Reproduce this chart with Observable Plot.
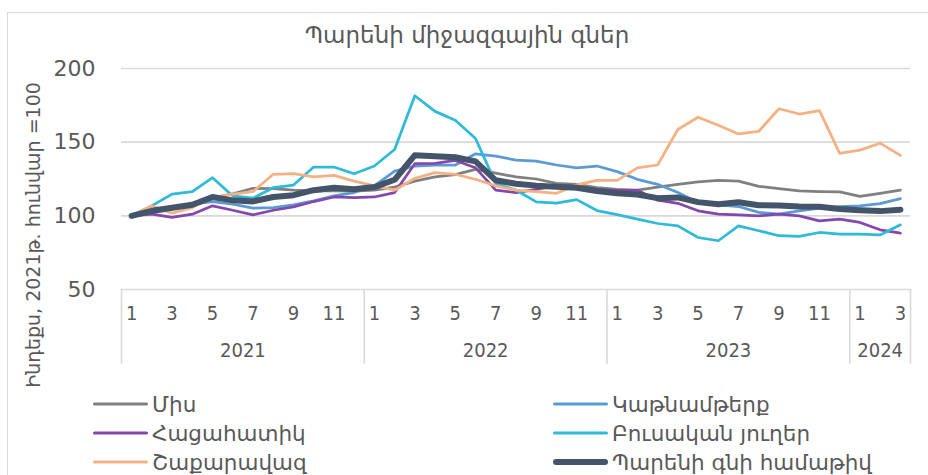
<!DOCTYPE html>
<html>
<head>
<meta charset="utf-8">
<script src="https://cdn.jsdelivr.net/npm/d3@7"></script>
<script src="https://cdn.jsdelivr.net/npm/@observablehq/plot@0.6"></script>
<style>
  html, body { margin: 0; padding: 0; background: #fff; }
  #wrap { position: relative; width: 928px; height: 475px; overflow: hidden; background: #fff;
          font-family: "DejaVu Sans", sans-serif; color: #595959; }
  #border { position: absolute; left: 7px; top: 12px; width: 940px; height: 490px;
            border-left: 1.5px solid #d9d9d9; border-top: 1.5px solid #d9d9d9; }
  #title { position: absolute; left: 0; top: 21px; width: 934px; text-align: center;
           font-size: 23px; line-height: 28px; }
  #ytitle { position: absolute; left: 33px; top: 235px; width: 0; height: 0; }
  #ytitle span { position: absolute; left: 0; top: 0; transform: translate(-50%, -50%) rotate(-90deg);
                 white-space: nowrap; font-size: 19px; line-height: 24px; }
  #chart { position: absolute; left: 0; top: 50px; }
  .lg { position: absolute; height: 29px; display: flex; align-items: center; font-size: 21.5px; white-space: nowrap; }
  .lg svg { margin-right: 4px; }
</style>
</head>
<body>
<div id="wrap">
  <div id="border"></div>
  <div id="title">Պարենի միջազգային գներ</div>
  <div id="chart"></div>
  <div id="ytitle"><span id="ytitleText"></span></div>
  <div id="legend"></div>
</div>
<script>
// ---- data ----
const monthNumbers = [1,2,3,4,5,6,7,8,9,10,11,12, 1,2,3,4,5,6,7,8,9,10,11,12, 1,2,3,4,5,6,7,8,9,10,11,12, 1,2,3];
const yearLabels = ["2021", "2022", "2023", "2024"];
const yTicks = [50, 100, 150, 200];

const seriesNames = ["Միս", "Կաթնամթերք", "Հացահատիկ", "Բուսական յուղեր", "Շաքարավազ", "Պարենի գնի համաթիվ"];
const seriesColors = ["#808080", "#5b9bd5", "#8547ad", "#2fbad8", "#f4b183", "#44546a"];

const meat = [100, 102, 104.5, 107.5, 112, 115, 118.7, 118.5, 117.5, 117, 117, 116.8,
              117.4, 119.5, 123.6, 126.5, 128, 131.5, 129, 126.4, 125, 122, 121.4, 119.1,
              118, 117.5, 119.5, 121.4, 123, 124, 123.6, 120, 118.5, 117, 116.5, 116.2,
              113.2, 115.3, 117.5];
const dairy = [100, 103.4, 105.5, 107.9, 109.7, 107.9, 105.2, 105.6, 107.4, 110.1, 113.5, 115.8,
               120.3, 130.4, 133.8, 134.5, 134.5, 142.1, 140.5, 137.8, 137.1, 134.5, 132.6, 133.8,
               130, 124.8, 121.4, 115.8, 109, 107.4, 106.3, 102.3, 101.1, 103.4, 105.2, 106.3,
               106.8, 108.3, 111.7];
const cereals = [100, 101.1, 98.9, 101.1, 106.8, 103.8, 100.7, 103.8, 106.1, 109.7, 112.8, 112.4,
                 112.8, 115.8, 135.4, 135.6, 137.6, 132.6, 117.4, 115.8, 118, 120.5, 119.5, 117.8,
                 117.3, 117.3, 110.6, 108.5, 103.4, 101.1, 100.7, 100, 101.1, 100, 96.6, 97.7,
                 95.5, 90.5, 88.3];
const vegOils = [100, 106.8, 114.7, 116.4, 125.9, 113.5, 112, 119.1, 120.9, 133.1, 133.1, 128.6,
                 133.8, 145, 181.5, 170.9, 164.9, 152.5, 122, 117.5, 109.5, 108.6, 111, 103.6,
                 100.8, 97.8, 94.8, 93.2, 85.3, 83.1, 93.2, 89.9, 86.5, 86.1, 88.7, 87.6,
                 87.6, 87, 93.9];
const sugar = [100, 106.8, 101.8, 105.6, 112.4, 114.7, 116.4, 128.2, 128.6, 126.4, 127.5, 123.6,
               120.3, 117.4, 125.5, 129.3, 128.2, 124.8, 120.3, 117.4, 116.4, 115.3, 121, 124.1,
               124.1, 132.6, 134.5, 158.6, 166.9, 161.5, 155.6, 157.4, 172.7, 169.1, 171.4, 142.4,
               144.6, 149.3, 141];
const foodIndex = [100, 103.4, 105.5, 107.5, 112.8, 110.5, 109.8, 112.8, 114, 117.4, 119.1, 118,
                   119.5, 124.5, 141.2, 140.5, 139.8, 137, 124.1, 121.8, 120.5, 119.8, 119.1, 116.9,
                   115.3, 114.5, 112, 112.5, 109.3, 107.8, 109.2, 107.2, 107, 106.3, 106.2, 104.6,
                   103.8, 103.2, 104.2];

const seriesValues = [meat, dairy, cereals, vegOils, sugar, foodIndex];
const yTitle = "Ինդեքս, 2021թ. հունվար =100";

// ---- derived ----
const n = monthNumbers.length;
const rows = [];
seriesValues.forEach((vals, s) => vals.forEach((v, i) => rows.push({i, v, s: seriesNames[s]})));
const oddIdx = d3.range(n).filter(i => monthNumbers[i] % 2 === 1);
const yearStarts = d3.range(n).filter(i => monthNumbers[i] === 1);
const boundaries = [...yearStarts.map(i => i - 0.5), n - 0.5];
const yearCenters = yearStarts.map((s, k) => ((s - 0.5) + ((k + 1 < yearStarts.length ? yearStarts[k + 1] : n) - 0.5)) / 2);

const font = '"DejaVu Sans", sans-serif';
const condFont = '"DejaVu Sans Condensed", "DejaVu Sans", sans-serif';

const lineMarks = seriesNames.map((name, s) =>
  Plot.line(rows.filter(r => r.s === name), {
    x: "i", y: "v",
    stroke: seriesColors[s],
    strokeWidth: s === 5 ? 6 : 2.75,
    strokeLinejoin: "round",
    strokeLinecap: "round"
  })
);

const chart = Plot.plot({
  width: 928,
  height: 320,
  marginLeft: 121,
  marginRight: 18,
  marginTop: 18,
  marginBottom: 81,
  x: {type: "linear", domain: [-0.5, n - 0.5]},
  y: {domain: [50, 200]},
  style: {fontFamily: font, color: "#595959", background: "transparent", overflow: "visible"},
  marks: [
    Plot.gridY([100, 150, 200], {stroke: "#d9d9d9", strokeOpacity: 1, strokeWidth: 1.6}),
    Plot.ruleY([50], {stroke: "#d9d9d9", strokeWidth: 1.6}),
    Plot.axisY({ticks: yTicks, tickSize: 0, tickPadding: 26, fontSize: 22, label: null}),
    Plot.axisX({ticks: boundaries, tickSize: 75, tickFormat: () => "", stroke: "#d9d9d9", strokeWidth: 1.6, label: null}),
    Plot.axisX({ticks: oddIdx, tickSize: 0, tickPadding: 16, tickFormat: i => String(monthNumbers[i]), fontSize: 20, fontFamily: condFont, label: null}),
    Plot.axisX({ticks: yearCenters, tickSize: 0, tickPadding: 53, tickFormat: (d, k) => yearLabels[k], fontSize: 20, fontFamily: condFont, label: null}),
    ...lineMarks
  ]
});
document.getElementById("chart").appendChild(chart);
document.getElementById("ytitleText").textContent = yTitle;

// ---- legend ----
const legend = document.getElementById("legend");
seriesNames.forEach((name, s) => {
  const col = s % 2, row = Math.floor(s / 2);
  const item = document.createElement("div");
  item.className = "lg";
  item.style.left = (col === 0 ? 93 : 553) + "px";
  item.style.top = (404 - 14.5 + row * 29) + "px";
  const w = s === 5 ? 6 : 3;
  item.innerHTML = `<svg width="55" height="10"><line x1="${w/2}" x2="${55 - w/2}" y1="5" y2="5" stroke="${seriesColors[s]}" stroke-width="${w}" stroke-linecap="round"/></svg><span>${name}</span>`;
  legend.appendChild(item);
});
</script>
</body>
</html>
